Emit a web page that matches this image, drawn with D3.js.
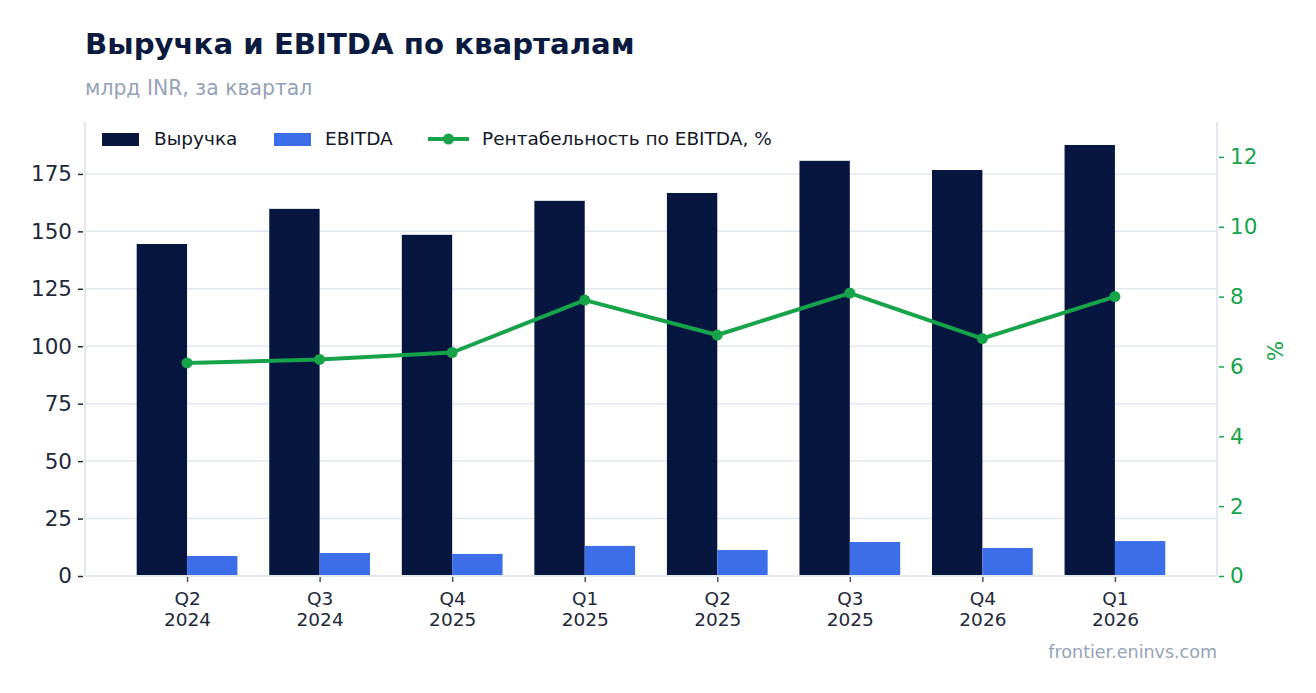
<!DOCTYPE html>
<html>
<head>
<meta charset="utf-8">
<script src="https://cdn.jsdelivr.net/npm/d3@7"></script>
<style>
  body { margin: 0; background: #fff; }
  svg text { font-family: "DejaVu Sans", sans-serif; }
</style>
</head>
<body>
<div id="chart"></div>
<script>
// Chart data
const quarters = ["Q2\n2024", "Q3\n2024", "Q4\n2025", "Q1\n2025", "Q2\n2025", "Q3\n2025", "Q4\n2026", "Q1\n2026"];
const revenue = [144.5, 159.8, 148.5, 163.3, 166.7, 180.7, 176.7, 187.6];
const ebitda = [8.7, 10.0, 9.6, 13.1, 11.3, 14.8, 12.2, 15.2];
const margin = [6.1, 6.2, 6.4, 7.9, 6.9, 8.1, 6.8, 8.0];
const leftTicks = [0, 25, 50, 75, 100, 125, 150, 175];
const rightTicks = [0, 2, 4, 6, 8, 10, 12];

const width = 1316, height = 693;
const plot = { left: 85, right: 1217, top: 122, bottom: 576 };

const navy = "#06163f", blue = "#3b6ee8", green = "#16a34a",
      grid = "#e2e8f0", muted = "#94a3b8", ink = "#1e293b";

const svg = d3.select("#chart").append("svg")
    .attr("width", width)
    .attr("height", height);

// Scales
const x = d3.scaleLinear()
    .domain([-0.77, quarters.length - 1 + 0.77])
    .range([plot.left, plot.right]);
const barW = x(0.38) - x(0);

const yL = d3.scaleLinear().domain([0, 197.6]).range([plot.bottom, plot.top]);
const yR = d3.scaleLinear().domain([0, 13]).range([plot.bottom, plot.top]);

// Gridlines
svg.append("g")
    .selectAll("line")
    .data(leftTicks)
    .enter().append("line")
    .attr("x1", plot.left).attr("x2", plot.right)
    .attr("y1", d => yL(d)).attr("y2", d => yL(d))
    .attr("stroke", grid).attr("stroke-width", 1.5);

// Bars
svg.append("g").selectAll("rect")
    .data(revenue)
    .enter().append("rect")
    .attr("x", (d, i) => x(i) - barW)
    .attr("y", d => yL(d))
    .attr("width", barW)
    .attr("height", d => yL(0) - yL(d))
    .attr("fill", navy);

svg.append("g").selectAll("rect")
    .data(ebitda)
    .enter().append("rect")
    .attr("x", (d, i) => x(i))
    .attr("y", d => yL(d))
    .attr("width", barW)
    .attr("height", d => yL(0) - yL(d))
    .attr("fill", blue);

// Margin line
const line = d3.line()
    .x((d, i) => x(i))
    .y(d => yR(d));

svg.append("path")
    .datum(margin)
    .attr("d", line)
    .attr("fill", "none")
    .attr("stroke", green)
    .attr("stroke-width", 4)
    .attr("stroke-linejoin", "round");

svg.append("g").selectAll("circle")
    .data(margin)
    .enter().append("circle")
    .attr("cx", (d, i) => x(i))
    .attr("cy", d => yR(d))
    .attr("r", 5.5)
    .attr("fill", green);

// Left axis
const axL = svg.append("g")
    .attr("transform", `translate(${plot.left},0)`)
    .call(d3.axisLeft(yL).tickValues(leftTicks).tickSize(5).tickPadding(6));
axL.select(".domain").remove();
axL.selectAll(".tick line").attr("stroke", ink).attr("stroke-width", 1.5).attr("transform", "translate(-2,0)");
axL.selectAll(".tick text").attr("fill", ink).style("font-size", "21.5px")
    .style("font-family", "DejaVu Sans").attr("x", -13);

// Right axis
const axR = svg.append("g")
    .attr("transform", `translate(${plot.right},0)`)
    .call(d3.axisRight(yR).tickValues(rightTicks).tickSize(5).tickPadding(6));
axR.select(".domain").remove();
axR.selectAll(".tick line").attr("stroke", green).attr("stroke-width", 1.5).attr("transform", "translate(2,0)");
axR.selectAll(".tick text").attr("fill", green).style("font-size", "21.5px")
    .style("font-family", "DejaVu Sans").attr("x", 13);

// Bottom axis ticks
const axB = svg.append("g")
    .attr("transform", `translate(0,${plot.bottom})`)
    .call(d3.axisBottom(x).tickValues(d3.range(quarters.length)).tickSize(6).tickFormat(""));
axB.select(".domain").remove();
axB.selectAll(".tick line").attr("stroke", "#475569").attr("stroke-width", 1.5);
axB.selectAll(".tick").each(function (d) {
    const parts = quarters[d].split("\n");
    const t = d3.select(this).append("text")
        .attr("fill", ink)
        .attr("text-anchor", "middle")
        .style("font-size", "18.5px");
    parts.forEach((p, k) => {
        t.append("tspan").attr("x", 0).attr("y", 29 + k * 21).text(p);
    });
});

// Spines
svg.append("line").attr("x1", plot.left).attr("x2", plot.left)
    .attr("y1", plot.top).attr("y2", plot.bottom).attr("stroke", grid).attr("stroke-width", 2);
svg.append("line").attr("x1", plot.right).attr("x2", plot.right)
    .attr("y1", plot.top).attr("y2", plot.bottom).attr("stroke", grid).attr("stroke-width", 2);
svg.append("line").attr("x1", plot.left).attr("x2", plot.right)
    .attr("y1", plot.bottom).attr("y2", plot.bottom).attr("stroke", grid).attr("stroke-width", 2);

// Right axis label
svg.append("text")
    .attr("transform", `translate(1283,351) rotate(-90)`)
    .attr("text-anchor", "middle")
    .attr("fill", green)
    .style("font-size", "21.5px")
    .text("%");

// Legend
const legend = svg.append("g").attr("transform", "translate(102,139)");
legend.append("rect").attr("x", 0).attr("y", -6).attr("width", 37).attr("height", 13).attr("fill", navy);
legend.append("text").attr("x", 52).attr("y", 6).attr("fill", "#111827").style("font-size", "18.5px").text("Выручка");
legend.append("rect").attr("x", 172).attr("y", -6).attr("width", 37).attr("height", 13).attr("fill", blue);
legend.append("text").attr("x", 223).attr("y", 6).attr("fill", "#111827").style("font-size", "18.5px").text("EBITDA");
legend.append("line").attr("x1", 326).attr("x2", 367).attr("y1", 0).attr("y2", 0)
    .attr("stroke", green).attr("stroke-width", 4);
legend.append("circle").attr("cx", 346.5).attr("cy", 0).attr("r", 5.5).attr("fill", green);
legend.append("text").attr("x", 380).attr("y", 6).attr("fill", "#111827").style("font-size", "18.5px")
    .text("Рентабельность по EBITDA, %");

// Title and subtitle
svg.append("text")
    .attr("x", 85).attr("y", 54)
    .attr("fill", "#0b1a3f")
    .style("font-size", "29.2px")
    .style("font-weight", "bold")
    .text("Выручка и EBITDA по кварталам");

svg.append("text")
    .attr("x", 85).attr("y", 95)
    .attr("fill", muted)
    .style("font-size", "20.4px")
    .text("млрд INR, за квартал");

// Source
svg.append("text")
    .attr("x", 1217).attr("y", 658)
    .attr("text-anchor", "end")
    .attr("fill", muted)
    .style("font-size", "17.5px")
    .text("frontier.eninvs.com");
</script>
</body>
</html>
